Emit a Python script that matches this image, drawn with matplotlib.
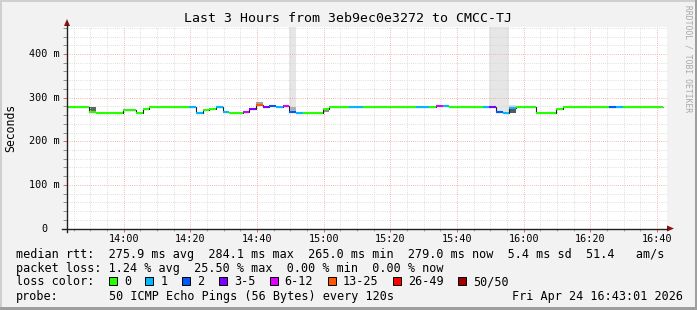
import numpy as np
import matplotlib.pyplot as plt
from matplotlib.lines import Line2D
from matplotlib.patches import Polygon, Rectangle
from matplotlib.ticker import MultipleLocator, FuncFormatter

W, H = 697, 310
mono = 'DejaVu Sans Mono'

# time in minutes after 13:00; one sample every 2 minutes
t_start, t_end = 43.0167, 223.0167   # 13:43:01 .. 16:43:01
step_start, step_len = 41.7, 2.0

# median rtt per step (ms)
median_ms = [279, 279, 279, 279, 268, 265, 265, 265, 265, 271,
             271, 265, 275, 279, 279, 279, 279, 279, 279, 279,
             265, 272, 275, 279, 266, 264, 264, 268, 275, 283,
             278, 280, 278, 281, 266, 264, 264, 264, 264, 275,
             279, 279, 279, 279, 279, 279, 279, 279, 279, 279,
             279, 279, 279, 279, 279, 279, 281, 280, 279, 279,
             279, 279, 279, 279, 279, 268, 264, 277, 279, 279,
             279, 265, 264, 264, 274, 279, 279, 279, 279, 279,
             279, 279, 279, 279, 279, 279, 279, 279, 279, 279]
# loss class per step (index into loss_labels)
loss_class = [0, 0, 0, 0, 0, 0, 0, 0, 0, 0,
              0, 0, 0, 0, 0, 0, 0, 0, 0, 1,
              1, 0, 0, 1, 1, 0, 0, 4, 3, 5,
              3, 2, 1, 4, 2, 1, 0, 0, 0, 0,
              0, 0, 0, 1, 1, 0, 0, 0, 0, 0,
              0, 0, 0, 1, 1, 0, 4, 1, 0, 0,
              0, 0, 0, 1, 3, 2, 1, 1, 0, 0,
              0, 0, 0, 0, 0, 0, 0, 0, 0, 0,
              0, 0, 2, 1, 0, 0, 0, 0, 0, 0]
loss_labels = ['0', '1', '2', '3-5', '6-12', '13-25', '26-49', '50/50']
loss_colors = ['#26ff00', '#00b8ff', '#0059ff', '#7e00ff',
               '#dd00ff', '#ff5500', '#ff0000', '#a10000']

# smoke (ping spread) per step
smoke_bin = [4, 16, 29, 32, 34, 34, 39, 52, 62, 64, 65, 66, 67, 67]
smoke_lo = [268, 279, 283, 278, 266, 268, 266, 279, 279, 279, 268, 264, 265, 277]
smoke_hi = [278, 282, 289, 281, 500, 278, 275, 282, 282, 500, 500, 500, 277, 283]
smoke_den = [0.7, 0.15, 0.4, 0.15, 0.1, 0.35, 0.5, 0.15, 0.15, 0.1, 0.1, 0.1, 0.75, 0.15]

rtt_stats = [275.9, 284.1, 265.0, 279.0, 5.4, 51.4]   # avg max min now sd am/s
loss_stats = [1.24, 25.50, 0.00, 0.00]                # avg max min now

fig = plt.figure(figsize=(W / 100, H / 100), dpi=100)
fig.patch.set_facecolor('#f2f2f2')


def fx(px):
    return px / W


def fy(py):
    return 1 - py / H


ax_l, ax_r, ax_t, ax_b = 67, 667, 27, 228.5
ax = fig.add_axes([fx(ax_l), fy(ax_b), fx(ax_r - ax_l), (ax_b - ax_t) / H])
ax.set_facecolor('white')
ax.set_xlim(t_start, t_end)
ax.set_ylim(0, 462)

n = len(median_ms)
edges = step_start + step_len * np.arange(n + 1)
left = edges[:-1]

# smoke
for b, lo, hi, d in zip(smoke_bin, smoke_lo, smoke_hi, smoke_den):
    g = 0.985 - 0.85 * d
    ax.bar(left[b], hi - lo, width=step_len, bottom=lo, align='edge',
           color=(g, g, g), linewidth=0, zorder=1)

# median line: dark step + coloured by loss
ax.stairs(median_ms, edges, baseline=None, color='#202020', lw=0.8, zorder=2.5)
cols = [loss_colors[c] for c in loss_class]
ax.hlines(median_ms, left, edges[1:], colors=cols, lw=1.5, zorder=3)

# grid
ax.xaxis.set_major_locator(MultipleLocator(20))
ax.xaxis.set_minor_locator(MultipleLocator(5))
ax.yaxis.set_major_locator(MultipleLocator(100))
ax.yaxis.set_minor_locator(MultipleLocator(20))
ax.grid(which='minor', color='#d4d4d4', ls=(0, (0.72, 1.44)), lw=0.72)
ax.grid(which='major', color='#f0a0a0', ls=(0, (0.72, 1.44)), lw=0.72)
ax.xaxis.set_major_formatter(FuncFormatter(
    lambda v, p: '%02d:%02d' % (13 + int(v) // 60, int(v) % 60)))
ax.tick_params(axis='x', which='major', direction='out', length=2.2, width=0.7,
               color='#e06060', pad=1.6, labelsize=7.3)
ax.tick_params(axis='x', which='minor', direction='out', length=1.5, width=0.7,
               color='#a0a0a0')
ax.tick_params(axis='y', which='major', direction='out', length=2.6, width=0.7,
               color='#e06060', labelleft=False)
ax.tick_params(axis='y', which='minor', direction='out', length=2.6, width=0.7,
               color='#909090')
for lab in ax.get_xticklabels():
    lab.set_fontfamily(mono)
for s in ax.spines.values():
    s.set_visible(False)

# y labels
for v in [0, 100, 200, 300, 400]:
    txt = '0' if v == 0 else '%d m' % v
    off = -19 if v == 0 else -7
    ax.annotate(txt, xy=(0, v), xycoords=('axes fraction', 'data'),
                xytext=(off, 0), textcoords='offset pixels', ha='right',
                va='center', fontsize=7.3, family=mono, annotation_clip=False)

# axes lines and arrows
axis_c = '#202020'
fig.add_artist(Line2D([fx(62), fx(ax_r)], [fy(ax_b), fy(ax_b)], color=axis_c, lw=1))
fig.add_artist(Line2D([fx(ax_l), fx(ax_l)], [fy(ax_b + 3), fy(ax_t - 2)], color=axis_c, lw=1))
arrow_c = '#8b1010'
fig.add_artist(Polygon([[fx(ax_l - 3), fy(ax_t - 1)], [fx(ax_l + 3), fy(ax_t - 1)],
                        [fx(ax_l), fy(ax_t - 8)]], closed=True, color=arrow_c, lw=0))
fig.add_artist(Polygon([[fx(ax_r), fy(ax_b - 3)], [fx(ax_r), fy(ax_b + 3)],
                        [fx(ax_r + 7), fy(ax_b)]], closed=True, color=arrow_c, lw=0))

# border
fig.add_artist(Rectangle((0, fy(2)), 1, 2 / H, color='#cfcfcf', lw=0))
fig.add_artist(Rectangle((0, 0), 2 / W, 1, color='#cfcfcf', lw=0))
fig.add_artist(Rectangle((0, 0), 1, 3 / H, color='#9e9e9e', lw=0))
fig.add_artist(Rectangle((1 - 2 / W, 0), 2 / W, 1, color='#9e9e9e', lw=0))

# texts
fig.text(fx(348), fy(22.5), 'Last 3 Hours from 3eb9ec0e3272 to CMCC-TJ',
         ha='center', va='baseline', fontsize=9.5, family=mono)
fig.text(fx(11), fy(128), 'Seconds', rotation=90, ha='center', va='center',
         fontsize=8.3, family=mono)
fig.text(fx(688), fy(5), 'RRDTOOL / TOBI OETIKER', rotation=-90, ha='center',
         va='top', fontsize=5.8, family=mono, color='#a8a8a8')

lx, cw = 16, 7.14
r = rtt_stats
line1 = ('median rtt:  %.1f ms avg  %.1f ms max  %.1f ms min  %.1f ms now  '
         '%.1f ms sd  %.1f   am/s' % tuple(r))
line2 = 'packet loss: %.2f %% avg  %.2f %% max  %.2f %% min  %.2f %% now' % tuple(loss_stats)
fig.text(fx(lx), fy(258), line1, va='baseline', fontsize=8.5, family=mono)
fig.text(fx(lx), fy(272), line2, va='baseline', fontsize=8.5, family=mono)
fig.text(fx(lx), fy(285.3), 'loss color:', va='baseline', fontsize=8.5, family=mono)
bx = lx + 13 * cw
for lab, c in zip(loss_labels, loss_colors):
    fig.add_artist(Rectangle((fx(bx), fy(285)), 8 / W, 8 / H, facecolor=c,
                             edgecolor='black', lw=0.7))
    fig.text(fx(bx + 15), fy(285.3), lab, va='baseline', fontsize=8.5, family=mono)
    bx = bx + 15 + len(lab) * cw + 14.5
fig.text(fx(lx), fy(300.3), 'probe:', va='baseline', fontsize=8.5, family=mono)
fig.text(fx(lx + 13 * cw), fy(300.3), '50 ICMP Echo Pings (56 Bytes) every 120s',
         va='baseline', fontsize=8.5, family=mono)
fig.text(fx(683), fy(300.3), 'Fri Apr 24 16:43:01 2026', ha='right',
         va='baseline', fontsize=8.5, family=mono)

fig.savefig('out.png', dpi=100, facecolor=fig.get_facecolor())
